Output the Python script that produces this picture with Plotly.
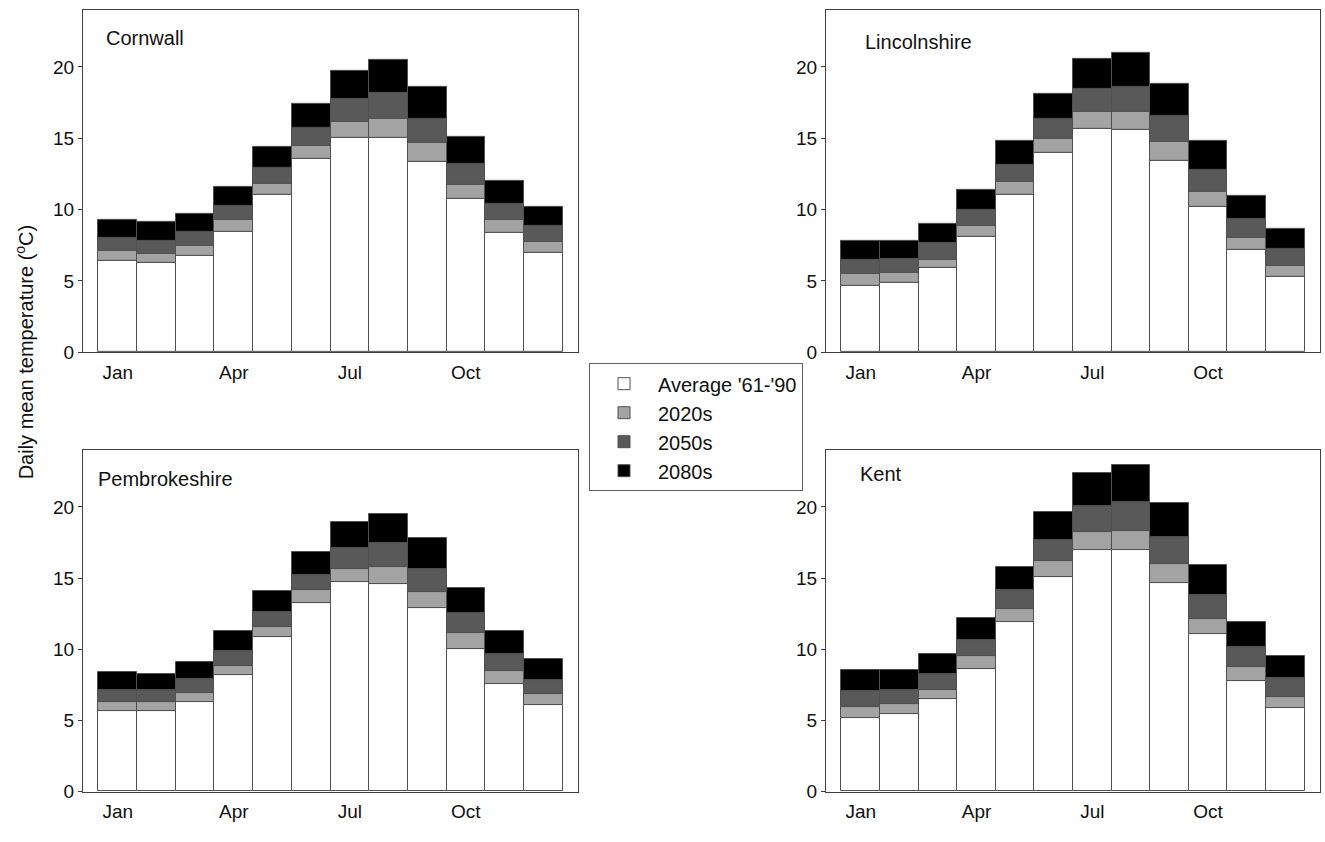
import numpy as np
import plotly.graph_objects as go

months = ["Jan", "Feb", "Mar", "Apr", "May", "Jun", "Jul", "Aug", "Sep", "Oct", "Nov", "Dec"]
tick_months = ["Jan", "Apr", "Jul", "Oct"]
series_names = ["Average '61-'90", "2020s", "2050s", "2080s"]

# cumulative (top-of-segment) values, deg C
cornwall_avg  = [6.44, 6.25, 6.74, 8.47, 11.05, 13.54, 15.02, 15.02, 13.36, 10.75, 8.37, 6.94]
cornwall_2020 = [7.13, 6.92, 7.45, 9.27, 11.83, 14.46, 16.12, 16.33, 14.65, 11.74, 9.25, 7.75]
cornwall_2050 = [8.05, 7.84, 8.47, 10.24, 12.96, 15.76, 17.76, 18.15, 16.36, 13.24, 10.43, 8.86]
cornwall_2080 = [9.27, 9.11, 9.69, 11.63, 14.39, 17.39, 19.72, 20.48, 18.59, 15.09, 12.02, 10.22]

lincs_avg  = [4.68, 4.87, 5.91, 8.07, 11.07, 13.96, 15.66, 15.57, 13.43, 10.17, 7.17, 5.28]
lincs_2020 = [5.51, 5.58, 6.51, 8.86, 11.95, 14.95, 16.84, 16.84, 14.74, 11.28, 8.05, 6.07]
lincs_2050 = [6.46, 6.55, 7.68, 9.97, 13.17, 16.36, 18.45, 18.62, 16.54, 12.78, 9.37, 7.24]
lincs_2080 = [7.80, 7.80, 9.00, 11.42, 14.79, 18.09, 20.60, 21.02, 18.78, 14.79, 10.98, 8.67]

pembs_avg  = [5.65, 5.65, 6.27, 8.17, 10.86, 13.26, 14.70, 14.58, 12.87, 10.02, 7.52, 6.09]
pembs_2020 = [6.27, 6.27, 6.92, 8.84, 11.55, 14.19, 15.65, 15.76, 14.03, 11.16, 8.47, 6.83]
pembs_2050 = [7.15, 7.15, 7.89, 9.88, 12.62, 15.25, 17.11, 17.45, 15.67, 12.57, 9.68, 7.87]
pembs_2080 = [8.43, 8.29, 9.12, 11.25, 14.12, 16.83, 18.94, 19.51, 17.82, 14.33, 11.25, 9.31]

kent_avg  = [5.19, 5.44, 6.48, 8.61, 11.88, 15.07, 16.99, 16.99, 14.68, 11.09, 7.75, 5.86]
kent_2020 = [5.93, 6.16, 7.15, 9.51, 12.85, 16.20, 18.26, 18.33, 15.97, 12.13, 8.75, 6.64]
kent_2050 = [7.04, 7.15, 8.29, 10.65, 14.19, 17.66, 20.09, 20.37, 17.87, 13.80, 10.16, 7.96]
kent_2080 = [8.52, 8.52, 9.68, 12.20, 15.79, 19.61, 22.41, 22.92, 20.30, 15.90, 11.92, 9.49]

regions = [
    ("Cornwall", [cornwall_avg, cornwall_2020, cornwall_2050, cornwall_2080]),
    ("Lincolnshire", [lincs_avg, lincs_2020, lincs_2050, lincs_2080]),
    ("Pembrokeshire", [pembs_avg, pembs_2020, pembs_2050, pembs_2080]),
    ("Kent", [kent_avg, kent_2020, kent_2050, kent_2080]),
]

colors = ["#ffffff", "#a3a3a3", "#595959", "#000000"]
W, H = 1325, 842


def px(v):
    return v / W


def py(v):
    return 1 - v / H


# panel frames in pixels (left, right, top, bottom) as seen in the reference
frames = [(83, 578, 10, 357), (826, 1320, 10, 357), (83, 578, 456, 802), (826, 1320, 456, 802)]
label_pos = [(104, 39), (863, 43), (96, 485), (858, 480)]

font_family = "Liberation Sans, Arial, sans-serif"
fig = go.Figure()
x_pos = np.arange(1, 13)

for i, (name, tops) in enumerate(regions):
    ax = "" if i == 0 else str(i + 1)
    prev = np.zeros(12)
    for k, top in enumerate(tops):
        top = np.array(top)
        fig.add_trace(go.Bar(
            x=x_pos, y=top - prev, base=prev,
            name=series_names[k], legendgroup=series_names[k],
            showlegend=(i == 0),
            marker=dict(color=colors[k], line=dict(color="#505050", width=1)),
            width=1.0,
            xaxis="x" + ax, yaxis="y" + ax,
            customdata=[months[j] for j in range(12)],
            hovertemplate=name + " %{customdata}: %{y:.1f}<extra>%{fullData.name}</extra>",
        ))
        prev = top
    l, r, t, b = frames[i]
    fig.layout["xaxis" + ax] = dict(
        domain=[px(l), px(r)], anchor="y" + ax, range=[0.1, 12.9],
        tickmode="array", tickvals=[months.index(m) + 1 for m in tick_months], ticktext=tick_months,
        showline=True, mirror=True, linecolor="#404040", linewidth=1,
        ticks="", showgrid=False, zeroline=False,
        tickfont=dict(size=19, color="#111111", family=font_family),
        ticklabelstandoff=3,
    )
    fig.layout["yaxis" + ax] = dict(
        domain=[py(b), py(t)], anchor="x" + ax, range=[0, 24],
        tickvals=[0, 5, 10, 15, 20],
        showline=True, mirror=True, linecolor="#404040", linewidth=1,
        ticks="outside", ticklen=4, tickcolor="#404040",
        showgrid=False, zeroline=False,
        tickfont=dict(size=19, color="#111111", family=font_family),
    )
    lx, ly = label_pos[i]
    fig.add_annotation(text=name, x=px(lx), y=py(ly), xref="paper", yref="paper",
                       xanchor="left", yanchor="middle", showarrow=False,
                       font=dict(size=20, color="#111111", family=font_family))

fig.add_annotation(text="Daily mean temperature (<sup>o</sup>C)", x=px(24), y=py(357),
                   xref="paper", yref="paper", textangle=-90, showarrow=False,
                   xanchor="center", yanchor="middle",
                   font=dict(size=20, color="#111111", family=font_family))

fig.update_layout(
    width=W, height=H, margin=dict(l=0, r=0, t=0, b=0),
    paper_bgcolor="white", plot_bgcolor="white",
    barmode="overlay", bargap=0,
    legend=dict(x=px(589), y=py(368), xanchor="left", yanchor="top",
                bordercolor="#606060", borderwidth=1, bgcolor="white",
                font=dict(size=20, color="#111111", family=font_family),
                tracegroupgap=0, itemwidth=58),
    showlegend=True,
)

fig.write_html("out.html", config={"displayModeBar": False},
               post_script="document.body.style.margin='0';")
